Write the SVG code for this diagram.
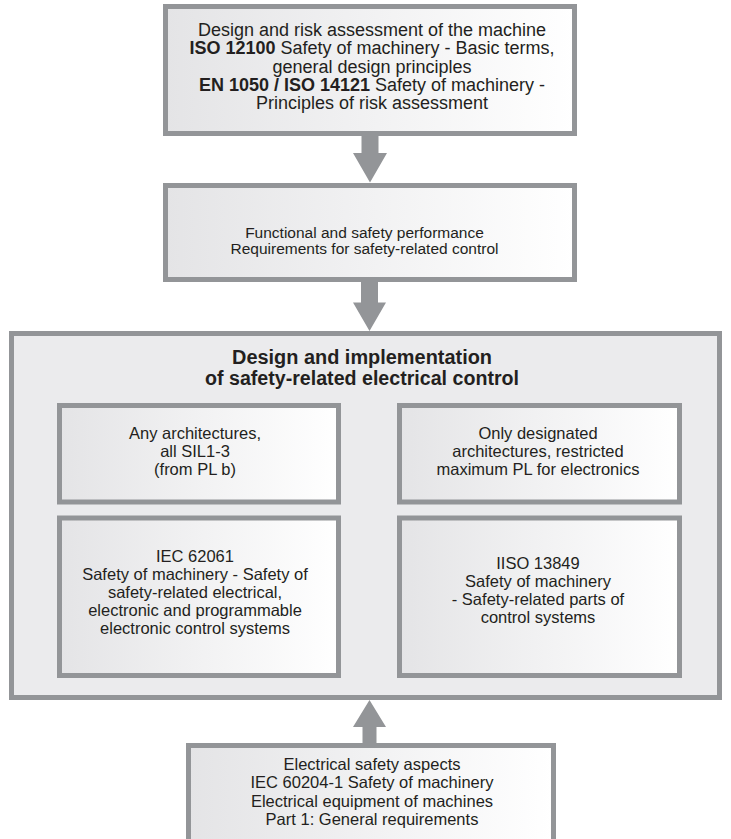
<svg xmlns="http://www.w3.org/2000/svg" width="731" height="839" viewBox="0 0 731 839">
<defs>
<linearGradient id="g" x1="0" y1="0" x2="1" y2="0">
<stop offset="0" stop-color="#e4e4e6"/>
<stop offset="1" stop-color="#ffffff"/>
</linearGradient>
<style>
.box{fill:url(#g);stroke:#939598;stroke-width:5}
.big{fill:#ebebed;stroke:#939598;stroke-width:5}
.arr{fill:#939598}
text{font-family:"Liberation Sans",Arial,sans-serif;fill:#231f20;text-anchor:middle}
.t18{font-size:18px}
.t16{font-size:16.5px}
.t15{font-size:15.5px}
.ttl{font-size:19.5px;font-weight:bold}
.b{font-weight:bold}
</style>
</defs>
<rect width="731" height="839" fill="#ffffff"/>
<g id="connectors">
<polygon class="arr" points="361.5,136 378.5,136 378.5,153 387,153 370,182.5 353,153 361.5,153"/>
<polygon class="arr" points="361,282 378,282 378,302.5 386,302.5 369.5,331 353,302.5 361,302.5"/>
<polygon class="arr" points="362.5,745 376.5,745 376.5,727 386,727 369.5,700 353,727 362.5,727"/>
</g>
<g id="node-risk">
<rect class="box" x="165.5" y="6.5" width="409" height="127"/>
<text class="t18" x="372" y="36">Design and risk assessment of the machine</text>
<text class="t18" x="372" y="54.3"><tspan class="b">ISO 12100</tspan> Safety of machinery - Basic terms,</text>
<text class="t18" x="372" y="72.6">general design principles</text>
<text class="t18" x="372" y="90.9"><tspan class="b">EN 1050 / ISO 14121</tspan> Safety of machinery -</text>
<text class="t18" x="372" y="109.2">Principles of risk assessment</text>
</g>
<g id="node-requirements">
<rect class="box" x="165.5" y="185.5" width="409" height="94"/>
<text class="t15" x="364.5" y="238">Functional and safety performance</text>
<text class="t15" x="364.5" y="254">Requirements for safety-related control</text>
</g>
<g id="node-design">
<rect class="big" x="11.5" y="333.5" width="708" height="364"/>
<text class="ttl" x="362" y="364" textLength="260" lengthAdjust="spacingAndGlyphs">Design and implementation</text>
<text class="ttl" x="362" y="385" textLength="314" lengthAdjust="spacingAndGlyphs">of safety-related electrical control</text>
</g>
<g id="node-any">
<rect class="box" x="59.5" y="405.5" width="279" height="96.5"/>
<text class="t16" x="195" y="439">Any architectures,</text>
<text class="t16" x="195" y="457">all SIL1-3</text>
<text class="t16" x="195" y="475">(from PL b)</text>
</g>
<g id="node-designated">
<rect class="box" x="399.5" y="405.5" width="280" height="96.5"/>
<text class="t16" x="538" y="439">Only designated</text>
<text class="t16" x="538" y="457">architectures, restricted</text>
<text class="t16" x="538" y="475">maximum PL for electronics</text>
</g>
<g id="node-iec62061">
<rect class="box" x="59.5" y="518" width="279" height="157.5"/>
<text class="t16" x="195" y="562">IEC 62061</text>
<text class="t16" x="195" y="580">Safety of machinery - Safety of</text>
<text class="t16" x="195" y="598">safety-related electrical,</text>
<text class="t16" x="195" y="616">electronic and programmable</text>
<text class="t16" x="195" y="634">electronic control systems</text>
</g>
<g id="node-iso13849">
<rect class="box" x="399.5" y="518" width="280" height="157.5"/>
<text class="t16" x="538" y="569">IISO 13849</text>
<text class="t16" x="538" y="587">Safety of machinery</text>
<text class="t16" x="538" y="605">- Safety-related parts of</text>
<text class="t16" x="538" y="623">control systems</text>
</g>
<g id="node-electrical">
<rect class="box" x="188.5" y="745.5" width="365" height="120"/>
<text class="t16" x="372" y="770">Electrical safety aspects</text>
<text class="t16" x="372" y="788.4">IEC 60204-1 Safety of machinery</text>
<text class="t16" x="372" y="806.8">Electrical equipment of machines</text>
<text class="t16" x="372" y="825.2">Part 1: General requirements</text>
</g>
</svg>
